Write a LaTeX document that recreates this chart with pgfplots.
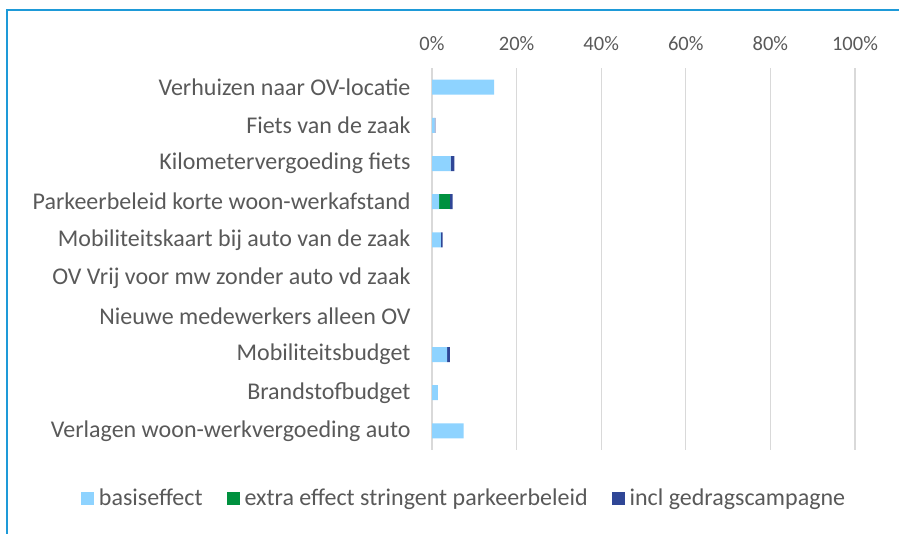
\documentclass[border=0pt]{standalone}
\usepackage{pgfplots}
\pgfplotsset{compat=1.18}
\usepackage{fontspec}
\setmainfont{Carlito}
\definecolor{basis}{HTML}{8ED3FF}
\definecolor{extra}{HTML}{00913F}
\definecolor{campagne}{HTML}{2F4696}
\definecolor{txt}{HTML}{595959}
\definecolor{gridc}{HTML}{D9D9D9}
\definecolor{frame}{HTML}{1E9AD8}

\begin{document}
\begin{tikzpicture}
\useasboundingbox (0pt,0pt) rectangle (899pt,-533pt);
\draw[frame, line width=2pt] (7pt,-540pt) -- (7pt,-10pt) -- (910pt,-10pt);
\begin{axis}[
    at={(432pt,-68pt)}, anchor=north west,
    scale only axis, width=423pt, height=382pt,
    xbar stacked, bar width=15pt,
    xmin=0, xmax=100, ymin=0.5, ymax=10.5, y dir=reverse,
    xtick={0,20,40,60,80,100},
    xticklabels={0\%,20\%,40\%,60\%,80\%,100\%},
    xticklabel pos=top,
    ytick={1,...,10},
    yticklabels={Verhuizen naar OV-locatie, Fiets van de zaak, Kilometervergoeding fiets,
        Parkeerbeleid korte woon-werkafstand, Mobiliteitskaart bij auto van de zaak,
        OV Vrij voor mw zonder auto vd zaak, Nieuwe medewerkers alleen OV,
        Mobiliteitsbudget, Brandstofbudget, Verlagen woon-werkvergoeding auto},
    major tick length=0pt,
    axis line style={draw=none},
    xmajorgrids, ymajorgrids=false,
    major grid style={gridc, line width=1.2pt},
    yticklabel style={font=\fontsize{24}{28}\selectfont, text=txt, xshift=-18pt},
    xticklabel style={font=\fontsize{20.5}{24}\selectfont, text=txt, yshift=14pt},
    legend columns=3,
    legend style={at={(0.0757,-0.126)}, anchor=center, draw=none,
        font=\fontsize{24}{28}\selectfont, text=txt,
        /tikz/every odd column/.append style={column sep=3pt},
        /tikz/every even column/.append style={column sep=22pt}},
    legend image code/.code={\fill[#1] (0pt,-6.5pt) rectangle (13pt,6.5pt);},
]
\addplot[fill=basis, draw=none] coordinates {
    (14.7,1) (0.6,2) (4.4,3) (1.7,4) (2.1,5) (0,6) (0,7) (3.6,8) (1.4,9) (7.5,10)};
\addplot[fill=extra, draw=none] coordinates {
    (0,1) (0,2) (0,3) (2.5,4) (0,5) (0,6) (0,7) (0,8) (0,9) (0,10)};
\addplot[fill=campagne, draw=none] coordinates {
    (0,1) (0.2,2) (0.9,3) (0.7,4) (0.4,5) (0,6) (0,7) (0.6,8) (0,9) (0,10)};
\legend{basiseffect, extra effect stringent parkeerbeleid, incl gedragscampagne}
\end{axis}
\end{tikzpicture}
\end{document}
